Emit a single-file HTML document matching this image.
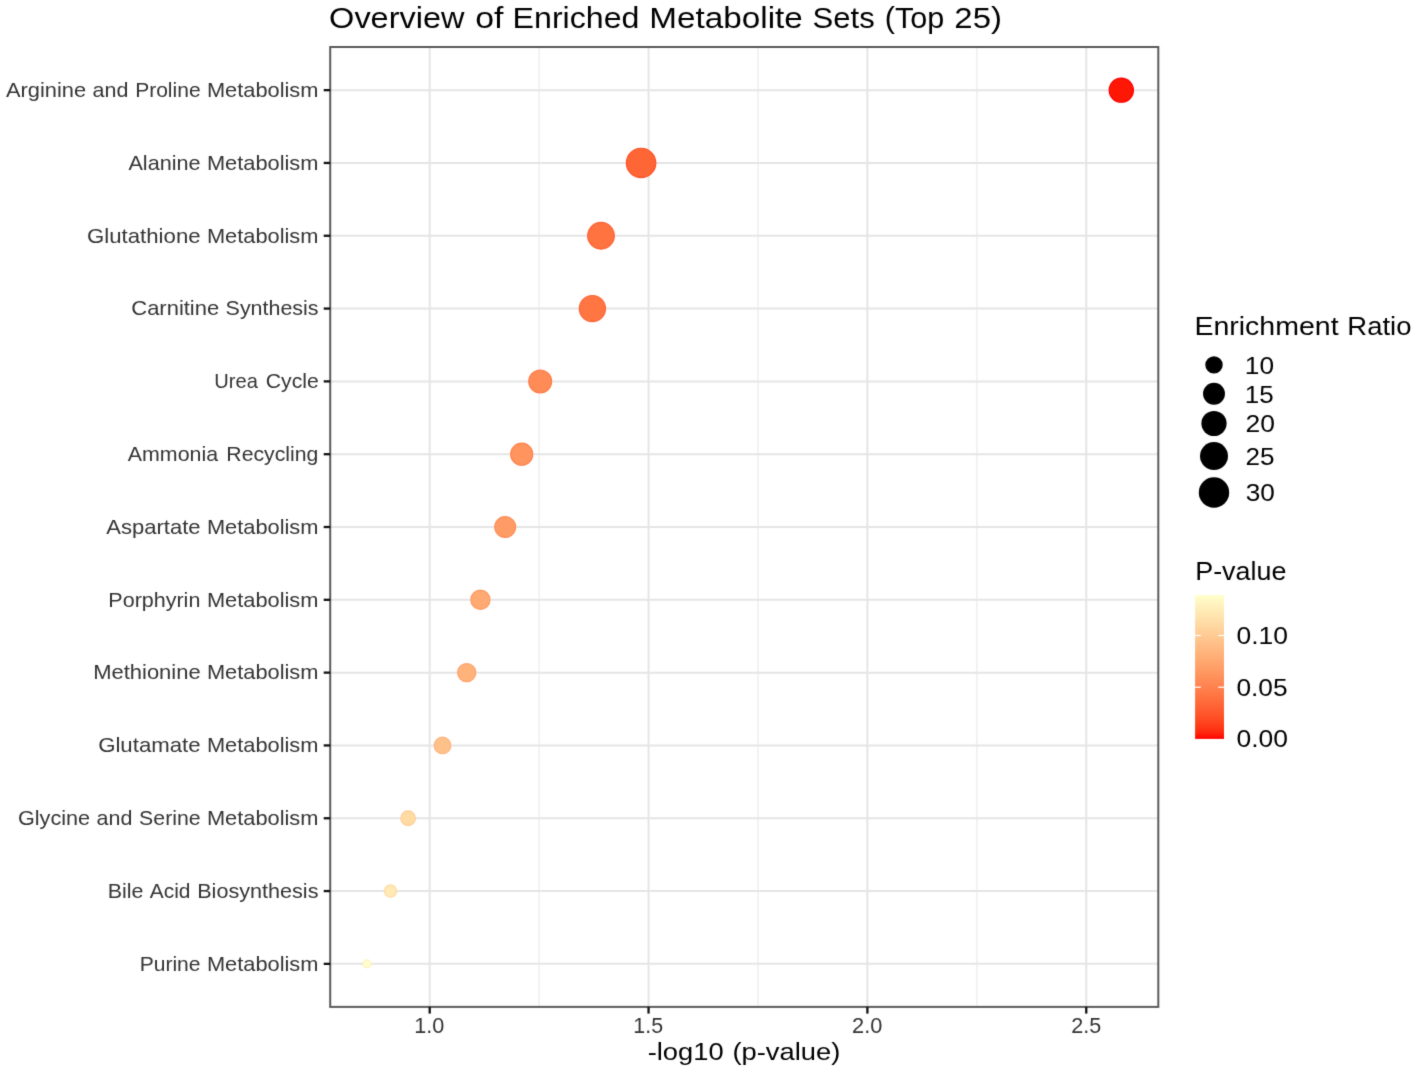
<!DOCTYPE html>
<html><head><meta charset="utf-8"><title>Overview of Enriched Metabolite Sets</title>
<style>html,body{margin:0;padding:0;background:#fff;}svg{display:block;}text{font-family:"Liberation Sans",sans-serif;}</style>
</head><body>
<svg width="1417" height="1072" viewBox="0 0 1417 1072">
<defs><filter id="gb" x="0" y="0" width="1417" height="1072" filterUnits="userSpaceOnUse" color-interpolation-filters="sRGB"><feConvolveMatrix order="3" kernelMatrix="0.01440 0.09120 0.01440 0.09120 0.57760 0.09120 0.01440 0.09120 0.01440" edgeMode="duplicate"/></filter><linearGradient id="cb" x1="0" y1="0" x2="0" y2="1"><stop offset="0.0000" stop-color="#ffffcc"/><stop offset="0.0417" stop-color="#fff7c3"/><stop offset="0.0833" stop-color="#ffefbb"/><stop offset="0.1250" stop-color="#ffe8b2"/><stop offset="0.1667" stop-color="#ffe0aa"/><stop offset="0.2083" stop-color="#ffd8a2"/><stop offset="0.2500" stop-color="#ffd099"/><stop offset="0.2917" stop-color="#ffc891"/><stop offset="0.3333" stop-color="#ffc089"/><stop offset="0.3750" stop-color="#ffb881"/><stop offset="0.4167" stop-color="#ffb078"/><stop offset="0.4583" stop-color="#ffa870"/><stop offset="0.5000" stop-color="#ff9f68"/><stop offset="0.5417" stop-color="#ff9760"/><stop offset="0.5833" stop-color="#ff8e58"/><stop offset="0.6250" stop-color="#ff8551"/><stop offset="0.6667" stop-color="#ff7c49"/><stop offset="0.7083" stop-color="#ff7341"/><stop offset="0.7500" stop-color="#ff6939"/><stop offset="0.7917" stop-color="#ff5f31"/><stop offset="0.8333" stop-color="#ff5429"/><stop offset="0.8750" stop-color="#ff4720"/><stop offset="0.9167" stop-color="#ff3917"/><stop offset="0.9583" stop-color="#ff260c"/><stop offset="1.0000" stop-color="#ff0000"/></linearGradient></defs>
<rect x="0" y="0" width="1417" height="1072" fill="#ffffff"/>
<g filter="url(#gb)">
<rect x="0" y="0" width="1417" height="1072" fill="#ffffff"/>
<line x1="539.12" y1="47.0" x2="539.12" y2="1006.9" stroke="#f0f0f0" stroke-width="1.6"/>
<line x1="757.97" y1="47.0" x2="757.97" y2="1006.9" stroke="#f0f0f0" stroke-width="1.6"/>
<line x1="976.83" y1="47.0" x2="976.83" y2="1006.9" stroke="#f0f0f0" stroke-width="1.6"/>
<line x1="429.70" y1="47.0" x2="429.70" y2="1006.9" stroke="#e5e5e5" stroke-width="2"/>
<line x1="648.55" y1="47.0" x2="648.55" y2="1006.9" stroke="#e5e5e5" stroke-width="2"/>
<line x1="867.40" y1="47.0" x2="867.40" y2="1006.9" stroke="#e5e5e5" stroke-width="2"/>
<line x1="1086.25" y1="47.0" x2="1086.25" y2="1006.9" stroke="#e5e5e5" stroke-width="2"/>
<line x1="330.2" y1="90.15" x2="1158.3" y2="90.15" stroke="#e5e5e5" stroke-width="2"/>
<line x1="330.2" y1="162.96" x2="1158.3" y2="162.96" stroke="#e5e5e5" stroke-width="2"/>
<line x1="330.2" y1="235.77" x2="1158.3" y2="235.77" stroke="#e5e5e5" stroke-width="2"/>
<line x1="330.2" y1="308.58" x2="1158.3" y2="308.58" stroke="#e5e5e5" stroke-width="2"/>
<line x1="330.2" y1="381.39" x2="1158.3" y2="381.39" stroke="#e5e5e5" stroke-width="2"/>
<line x1="330.2" y1="454.20" x2="1158.3" y2="454.20" stroke="#e5e5e5" stroke-width="2"/>
<line x1="330.2" y1="527.01" x2="1158.3" y2="527.01" stroke="#e5e5e5" stroke-width="2"/>
<line x1="330.2" y1="599.82" x2="1158.3" y2="599.82" stroke="#e5e5e5" stroke-width="2"/>
<line x1="330.2" y1="672.63" x2="1158.3" y2="672.63" stroke="#e5e5e5" stroke-width="2"/>
<line x1="330.2" y1="745.44" x2="1158.3" y2="745.44" stroke="#e5e5e5" stroke-width="2"/>
<line x1="330.2" y1="818.25" x2="1158.3" y2="818.25" stroke="#e5e5e5" stroke-width="2"/>
<line x1="330.2" y1="891.06" x2="1158.3" y2="891.06" stroke="#e5e5e5" stroke-width="2"/>
<line x1="330.2" y1="963.87" x2="1158.3" y2="963.87" stroke="#e5e5e5" stroke-width="2"/>
<circle cx="1121.30" cy="90.15" r="12.10" fill="#ff1705" stroke="#ff0000" stroke-width="1.2"/>
<circle cx="641.10" cy="162.96" r="14.70" fill="#ff6636" stroke="#ff5127" stroke-width="1.2"/>
<circle cx="601.00" cy="235.77" r="13.30" fill="#ff7341" stroke="#ff6031" stroke-width="1.2"/>
<circle cx="592.40" cy="308.58" r="13.10" fill="#ff7643" stroke="#ff6334" stroke-width="1.2"/>
<circle cx="540.20" cy="381.39" r="11.40" fill="#ff8b56" stroke="#ff7a47" stroke-width="1.2"/>
<circle cx="521.70" cy="454.20" r="11.00" fill="#ff945e" stroke="#ff834e" stroke-width="1.2"/>
<circle cx="505.20" cy="527.01" r="10.40" fill="#ff9c65" stroke="#ff8b56" stroke-width="1.2"/>
<circle cx="480.40" cy="599.82" r="9.60" fill="#ffaa72" stroke="#ff9963" stroke-width="1.2"/>
<circle cx="466.70" cy="672.63" r="9.10" fill="#ffb27a" stroke="#ffa26b" stroke-width="1.2"/>
<circle cx="442.50" cy="745.44" r="8.30" fill="#ffc18a" stroke="#ffb27a" stroke-width="1.2"/>
<circle cx="408.10" cy="818.25" r="7.30" fill="#ffdba4" stroke="#ffcb94" stroke-width="1.2"/>
<circle cx="390.50" cy="891.06" r="6.10" fill="#ffe9b4" stroke="#ffdaa4" stroke-width="1.2"/>
<circle cx="367.00" cy="963.87" r="3.90" fill="#ffffcc" stroke="#fff0bc" stroke-width="1.2"/>
<rect x="330.2" y="47.0" width="828.10" height="959.90" fill="none" stroke="#5a5a5a" stroke-width="2"/>
<line x1="323.7" y1="90.15" x2="330.2" y2="90.15" stroke="#111" stroke-width="2.3"/>
<line x1="323.7" y1="162.96" x2="330.2" y2="162.96" stroke="#111" stroke-width="2.3"/>
<line x1="323.7" y1="235.77" x2="330.2" y2="235.77" stroke="#111" stroke-width="2.3"/>
<line x1="323.7" y1="308.58" x2="330.2" y2="308.58" stroke="#111" stroke-width="2.3"/>
<line x1="323.7" y1="381.39" x2="330.2" y2="381.39" stroke="#111" stroke-width="2.3"/>
<line x1="323.7" y1="454.20" x2="330.2" y2="454.20" stroke="#111" stroke-width="2.3"/>
<line x1="323.7" y1="527.01" x2="330.2" y2="527.01" stroke="#111" stroke-width="2.3"/>
<line x1="323.7" y1="599.82" x2="330.2" y2="599.82" stroke="#111" stroke-width="2.3"/>
<line x1="323.7" y1="672.63" x2="330.2" y2="672.63" stroke="#111" stroke-width="2.3"/>
<line x1="323.7" y1="745.44" x2="330.2" y2="745.44" stroke="#111" stroke-width="2.3"/>
<line x1="323.7" y1="818.25" x2="330.2" y2="818.25" stroke="#111" stroke-width="2.3"/>
<line x1="323.7" y1="891.06" x2="330.2" y2="891.06" stroke="#111" stroke-width="2.3"/>
<line x1="323.7" y1="963.87" x2="330.2" y2="963.87" stroke="#111" stroke-width="2.3"/>
<line x1="429.70" y1="1006.9" x2="429.70" y2="1013.6" stroke="#111" stroke-width="2.3"/>
<line x1="648.55" y1="1006.9" x2="648.55" y2="1013.6" stroke="#111" stroke-width="2.3"/>
<line x1="867.40" y1="1006.9" x2="867.40" y2="1013.6" stroke="#111" stroke-width="2.3"/>
<line x1="1086.25" y1="1006.9" x2="1086.25" y2="1013.6" stroke="#111" stroke-width="2.3"/>
<circle cx="1214.0" cy="364.9" r="8.7" fill="#000"/>
<circle cx="1214.0" cy="393.8" r="10.95" fill="#000"/>
<circle cx="1214.0" cy="423.5" r="12.6" fill="#000"/>
<circle cx="1214.0" cy="456.1" r="14.0" fill="#000"/>
<circle cx="1214.0" cy="492.5" r="15.2" fill="#000"/>
<rect x="1195.1" y="595.1" width="28.9" height="143.8" fill="url(#cb)"/>
<line x1="1195.1" y1="635.5" x2="1200.9" y2="635.5" stroke="#fff" stroke-width="1.2"/>
<line x1="1218.2" y1="635.5" x2="1224.0" y2="635.5" stroke="#fff" stroke-width="1.2"/>
<line x1="1195.1" y1="687.2" x2="1200.9" y2="687.2" stroke="#fff" stroke-width="1.2"/>
<line x1="1218.2" y1="687.2" x2="1224.0" y2="687.2" stroke="#fff" stroke-width="1.2"/>
<text x="329.14" y="28.35" font-size="29.70" fill="#000" textLength="135.35" lengthAdjust="spacingAndGlyphs">Overview</text>
<text x="475.30" y="28.35" font-size="29.70" fill="#000" textLength="28.20" lengthAdjust="spacingAndGlyphs">of</text>
<text x="512.64" y="28.35" font-size="29.70" fill="#000" textLength="126.77" lengthAdjust="spacingAndGlyphs">Enriched</text>
<text x="649.31" y="28.35" font-size="29.70" fill="#000" textLength="153.49" lengthAdjust="spacingAndGlyphs">Metabolite</text>
<text x="812.60" y="28.35" font-size="29.70" fill="#000" textLength="62.09" lengthAdjust="spacingAndGlyphs">Sets</text>
<text x="884.84" y="28.35" font-size="29.70" fill="#000" textLength="59.44" lengthAdjust="spacingAndGlyphs">(Top</text>
<text x="954.35" y="28.35" font-size="29.70" fill="#000" textLength="47.53" lengthAdjust="spacingAndGlyphs">25)</text>
<text x="5.92" y="97.00" font-size="19.80" fill="#333333" textLength="80.19" lengthAdjust="spacingAndGlyphs">Arginine</text>
<text x="92.59" y="97.00" font-size="19.80" fill="#333333" textLength="35.84" lengthAdjust="spacingAndGlyphs">and</text>
<text x="135.15" y="97.00" font-size="19.80" fill="#333333" textLength="65.45" lengthAdjust="spacingAndGlyphs">Proline</text>
<text x="206.93" y="97.00" font-size="19.80" fill="#333333" textLength="111.49" lengthAdjust="spacingAndGlyphs">Metabolism</text>
<text x="128.42" y="169.81" font-size="19.80" fill="#333333" textLength="72.18" lengthAdjust="spacingAndGlyphs">Alanine</text>
<text x="206.93" y="169.81" font-size="19.80" fill="#333333" textLength="111.49" lengthAdjust="spacingAndGlyphs">Metabolism</text>
<text x="87.10" y="242.62" font-size="19.80" fill="#333333" textLength="113.48" lengthAdjust="spacingAndGlyphs">Glutathione</text>
<text x="206.93" y="242.62" font-size="19.80" fill="#333333" textLength="111.49" lengthAdjust="spacingAndGlyphs">Metabolism</text>
<text x="131.27" y="315.43" font-size="19.80" fill="#333333" textLength="87.94" lengthAdjust="spacingAndGlyphs">Carnitine</text>
<text x="225.60" y="315.43" font-size="19.80" fill="#333333" textLength="92.96" lengthAdjust="spacingAndGlyphs">Synthesis</text>
<text x="214.24" y="388.24" font-size="19.80" fill="#333333" textLength="43.59" lengthAdjust="spacingAndGlyphs">Urea</text>
<text x="265.77" y="388.24" font-size="19.80" fill="#333333" textLength="52.97" lengthAdjust="spacingAndGlyphs">Cycle</text>
<text x="127.76" y="461.05" font-size="19.80" fill="#333333" textLength="90.34" lengthAdjust="spacingAndGlyphs">Ammonia</text>
<text x="226.33" y="461.05" font-size="19.80" fill="#333333" textLength="91.99" lengthAdjust="spacingAndGlyphs">Recycling</text>
<text x="106.32" y="533.86" font-size="19.80" fill="#333333" textLength="94.27" lengthAdjust="spacingAndGlyphs">Aspartate</text>
<text x="206.93" y="533.86" font-size="19.80" fill="#333333" textLength="111.49" lengthAdjust="spacingAndGlyphs">Metabolism</text>
<text x="108.33" y="606.67" font-size="19.80" fill="#333333" textLength="92.03" lengthAdjust="spacingAndGlyphs">Porphyrin</text>
<text x="206.93" y="606.67" font-size="19.80" fill="#333333" textLength="111.49" lengthAdjust="spacingAndGlyphs">Metabolism</text>
<text x="93.17" y="679.48" font-size="19.80" fill="#333333" textLength="107.49" lengthAdjust="spacingAndGlyphs">Methionine</text>
<text x="206.93" y="679.48" font-size="19.80" fill="#333333" textLength="111.49" lengthAdjust="spacingAndGlyphs">Metabolism</text>
<text x="98.15" y="752.29" font-size="19.80" fill="#333333" textLength="102.52" lengthAdjust="spacingAndGlyphs">Glutamate</text>
<text x="206.93" y="752.29" font-size="19.80" fill="#333333" textLength="111.49" lengthAdjust="spacingAndGlyphs">Metabolism</text>
<text x="17.97" y="825.10" font-size="19.80" fill="#333333" textLength="72.07" lengthAdjust="spacingAndGlyphs">Glycine</text>
<text x="96.53" y="825.10" font-size="19.80" fill="#333333" textLength="35.84" lengthAdjust="spacingAndGlyphs">and</text>
<text x="139.13" y="825.10" font-size="19.80" fill="#333333" textLength="61.49" lengthAdjust="spacingAndGlyphs">Serine</text>
<text x="206.93" y="825.10" font-size="19.80" fill="#333333" textLength="111.49" lengthAdjust="spacingAndGlyphs">Metabolism</text>
<text x="107.69" y="897.91" font-size="19.80" fill="#333333" textLength="35.76" lengthAdjust="spacingAndGlyphs">Bile</text>
<text x="149.79" y="897.91" font-size="19.80" fill="#333333" textLength="40.69" lengthAdjust="spacingAndGlyphs">Acid</text>
<text x="197.20" y="897.91" font-size="19.80" fill="#333333" textLength="121.30" lengthAdjust="spacingAndGlyphs">Biosynthesis</text>
<text x="139.67" y="970.72" font-size="19.80" fill="#333333" textLength="60.85" lengthAdjust="spacingAndGlyphs">Purine</text>
<text x="206.93" y="970.72" font-size="19.80" fill="#333333" textLength="111.49" lengthAdjust="spacingAndGlyphs">Metabolism</text>
<text x="414.21" y="1032.80" font-size="21.60" fill="#333333" textLength="30.12" lengthAdjust="spacingAndGlyphs">1.0</text>
<text x="633.27" y="1032.80" font-size="21.60" fill="#333333" textLength="29.81" lengthAdjust="spacingAndGlyphs">1.5</text>
<text x="852.10" y="1032.80" font-size="21.60" fill="#333333" textLength="30.27" lengthAdjust="spacingAndGlyphs">2.0</text>
<text x="1071.16" y="1032.80" font-size="21.60" fill="#333333" textLength="29.97" lengthAdjust="spacingAndGlyphs">2.5</text>
<text x="647.66" y="1059.50" font-size="24.60" fill="#000" textLength="75.93" lengthAdjust="spacingAndGlyphs">-log10</text>
<text x="732.42" y="1059.50" font-size="24.60" fill="#000" textLength="107.87" lengthAdjust="spacingAndGlyphs">(p-value)</text>
<text x="1194.42" y="335.30" font-size="26.20" fill="#000" textLength="144.21" lengthAdjust="spacingAndGlyphs">Enrichment</text>
<text x="1347.33" y="335.30" font-size="26.20" fill="#000" textLength="64.07" lengthAdjust="spacingAndGlyphs">Ratio</text>
<text x="1244.83" y="373.60" font-size="23.90" fill="#000" textLength="29.23" lengthAdjust="spacingAndGlyphs">10</text>
<text x="1244.86" y="402.50" font-size="23.90" fill="#000" textLength="28.84" lengthAdjust="spacingAndGlyphs">15</text>
<text x="1245.48" y="432.20" font-size="23.90" fill="#000" textLength="29.43" lengthAdjust="spacingAndGlyphs">20</text>
<text x="1245.49" y="464.80" font-size="23.90" fill="#000" textLength="29.05" lengthAdjust="spacingAndGlyphs">25</text>
<text x="1245.75" y="501.20" font-size="23.90" fill="#000" textLength="29.15" lengthAdjust="spacingAndGlyphs">30</text>
<text x="1195.25" y="579.80" font-size="25.90" fill="#000" textLength="91.10" lengthAdjust="spacingAndGlyphs">P-value</text>
<text x="1236.44" y="644.05" font-size="24.00" fill="#000" textLength="51.53" lengthAdjust="spacingAndGlyphs">0.10</text>
<text x="1236.45" y="695.75" font-size="24.00" fill="#000" textLength="51.17" lengthAdjust="spacingAndGlyphs">0.05</text>
<text x="1236.44" y="747.45" font-size="24.00" fill="#000" textLength="51.53" lengthAdjust="spacingAndGlyphs">0.00</text>
</g>
</svg>
</body></html>
